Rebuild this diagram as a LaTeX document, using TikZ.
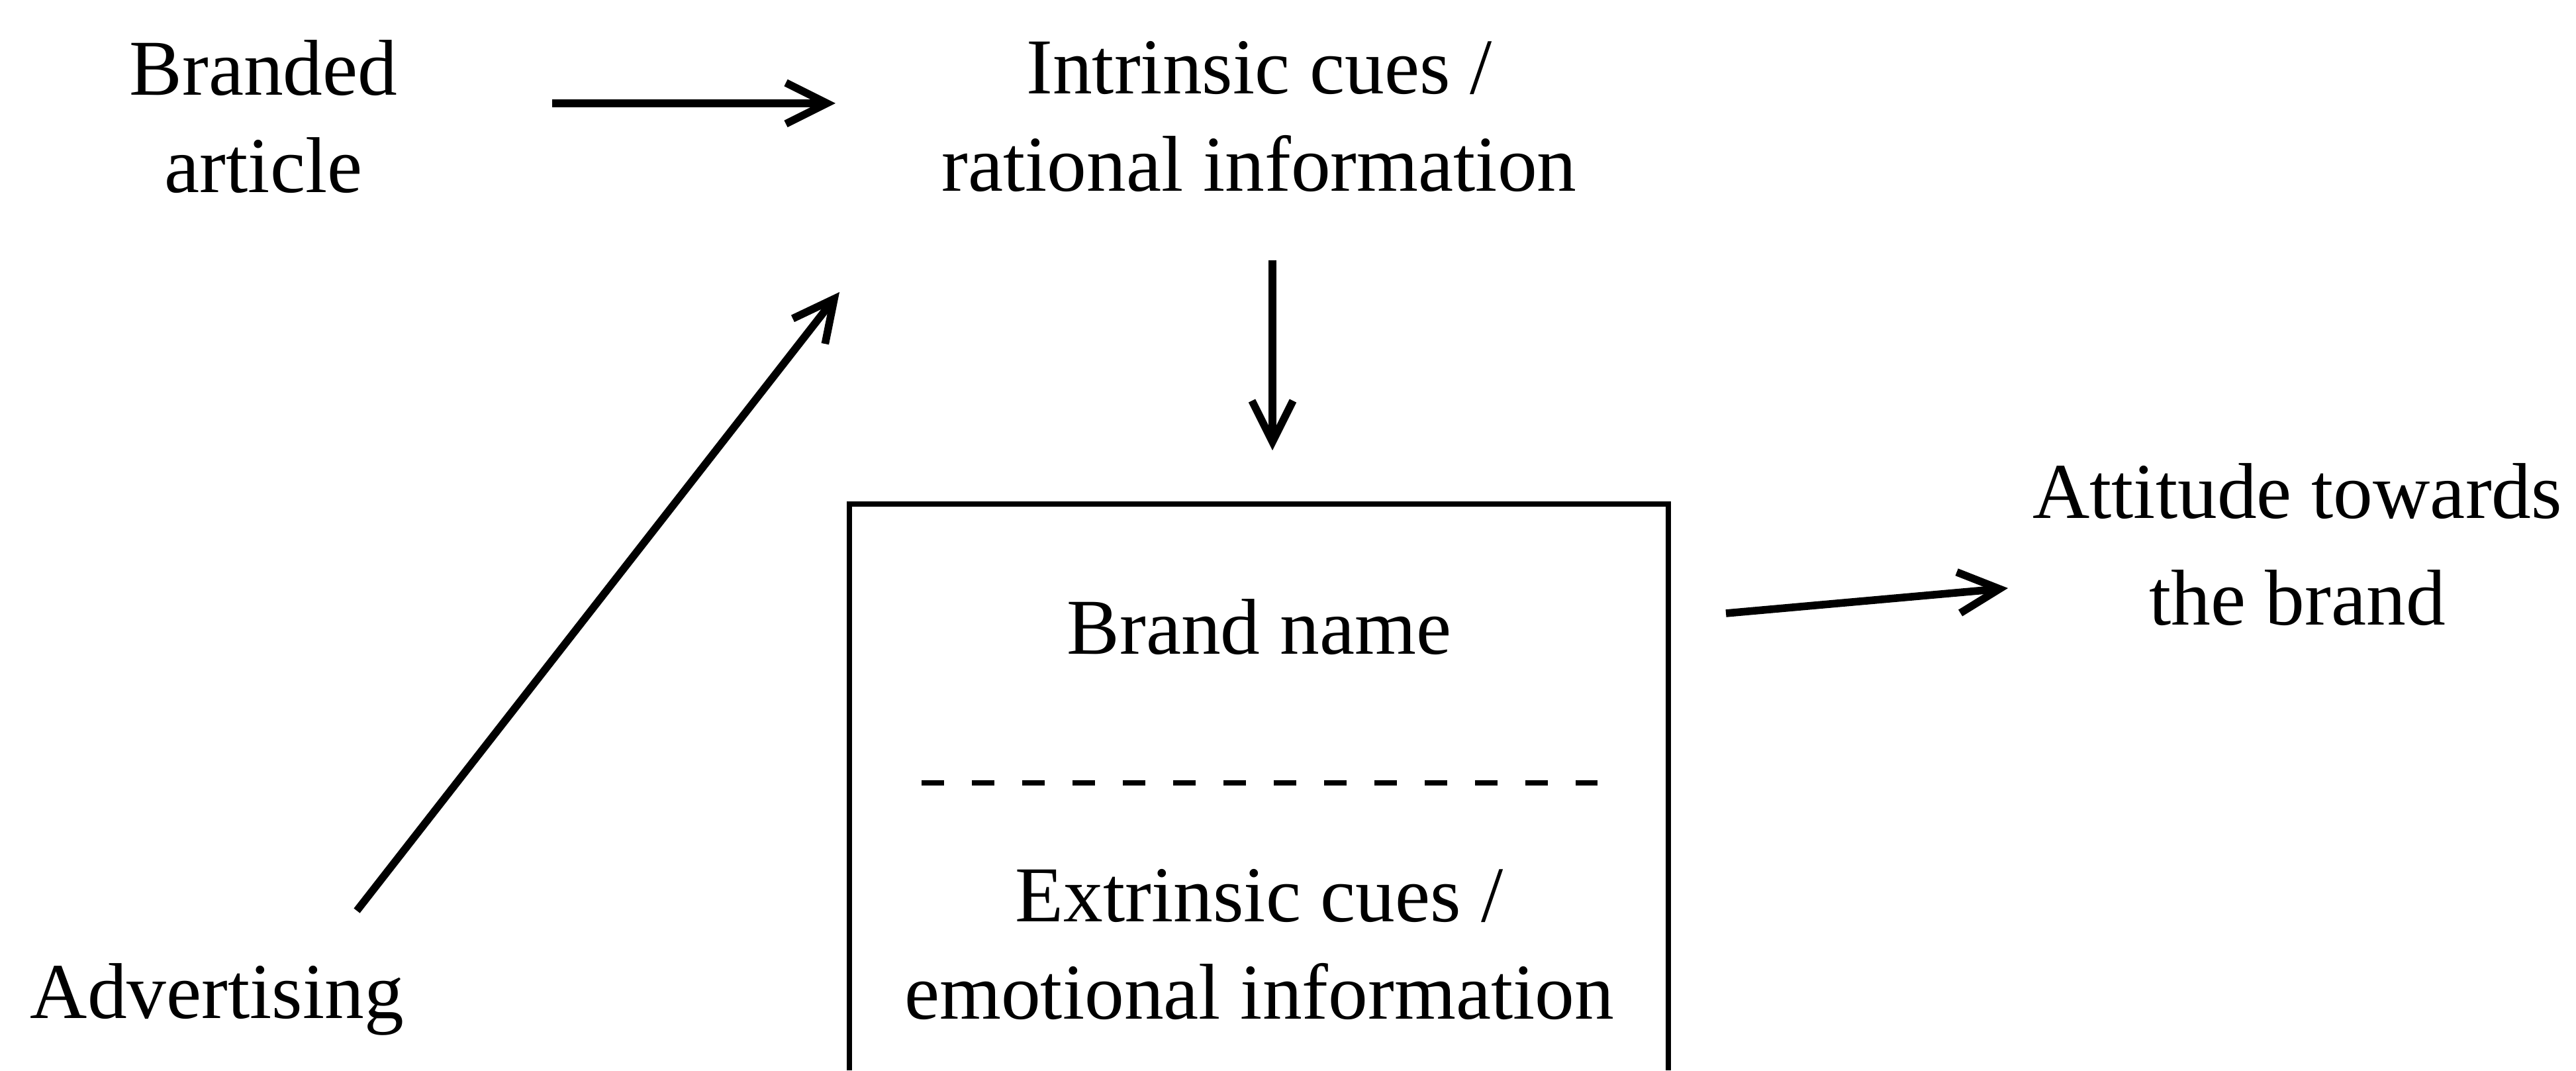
\documentclass[tikz,border=0pt]{standalone}
\usepackage{fontspec}
\setmainfont{Liberation Serif}
\usetikzlibrary{arrows.meta}
\tikzset{%
    >={Straight Barb[length=6.2mm,width=6.2mm]}, % open barbs
    cue text/.style={font=\fontsize{34}{42}\selectfont,inner sep=0pt,
        outer sep=0pt,align=center},%
    flow/.style={->,line width=3.3pt},%
    box side/.style={line width=2.3pt},%
    divider/.style={line width=2pt,dash pattern=on 0.34cm off 0.42cm}%
}

\begin{document}
\begin{tikzpicture} % brand attitude model

    \useasboundingbox (0,0) rectangle (38.91,16.16);

    % inputs
    \node[cue text] (branded) at (3.98,14.40) {Branded\\article};
    \node[cue text] (intrinsic) at (19.02,14.40) {Intrinsic cues /\\rational information};
    \node[cue text,anchor=base] (advertising) at (3.28,0.79) {Advertising};

    % the box, open at the bottom
    \node[minimum width=12.36cm,minimum height=8.54cm,inner sep=0pt,
        anchor=south west] (box) at (12.83,0) {};
    \draw[box side] (box.south west) |- (box.north east) -- (box.south east);
    \node[cue text,anchor=base] (brandname) at (19.02,6.28) {Brand name};
    \draw[divider] ([shift={(1.09,4.34)}]box.south west)
        -- ([shift={(-1.07,4.34)}]box.south east);
    \node[cue text] (extrinsic) at (19.02,1.90) {Extrinsic cues /\\emotional information};

    % output
    \node[cue text] (attitude) at (34.70,7.94) {Attitude towards\\[4pt]the brand};

    % arrow ends
    \coordinate (branded out) at (8.34,14.60);
    \coordinate (intrinsic in) at (12.62,14.60);
    \coordinate (advertising out) at (5.39,2.41);
    \coordinate (intrinsic low) at (12.68,11.75);
    \coordinate (intrinsic out) at (19.22,12.23);
    \coordinate (box in) at (19.22,9.36);
    \coordinate (box out) at (26.07,6.90);
    \coordinate (attitude in) at (30.33,7.28);

    \draw[flow] (branded out) -- (intrinsic in);
    \draw[flow] (advertising out) -- (intrinsic low);
    \draw[flow] (intrinsic out) -- (box in);
    \draw[flow] (box out) -- (attitude in);

\end{tikzpicture}
\end{document}
